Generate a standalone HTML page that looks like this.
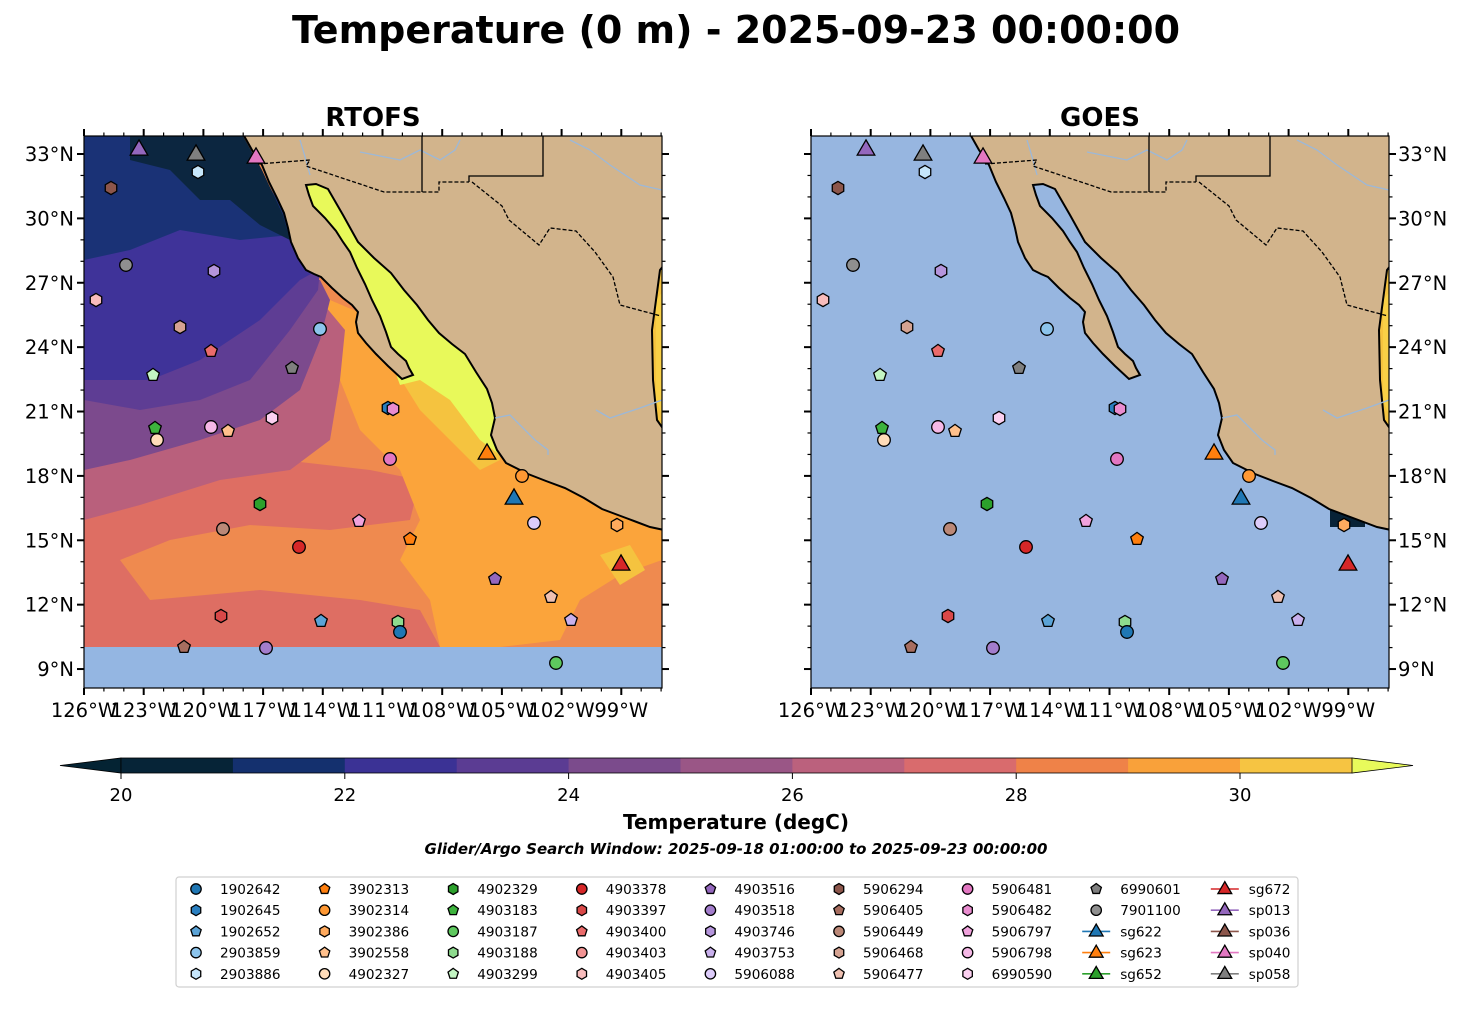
<!DOCTYPE html>
<html><head><meta charset="utf-8">
<style>
html,body{margin:0;padding:0;background:#fff;}
svg text{font-family:"DejaVu Sans","Liberation Sans",sans-serif;}
</style></head>
<body>
<svg id="s" xmlns="http://www.w3.org/2000/svg" width="1473" height="1014" viewBox="0 0 1473 1014">
<defs>
<clipPath id="c1"><rect x="84" y="136" width="578" height="552"/></clipPath>
<clipPath id="c2"><rect x="811" y="136" width="578" height="552"/></clipPath>
</defs>
<text x="736" y="43" text-anchor="middle" font-size="38" font-weight="bold">Temperature (0 m) - 2025-09-23 00:00:00</text>
<text x="373" y="126" text-anchor="middle" font-size="26" font-weight="bold">RTOFS</text>
<text x="1100" y="126" text-anchor="middle" font-size="26" font-weight="bold">GOES</text>
<g id="maps"></g>
<g id="cb"></g>
<g id="leg"></g>
</svg>
<script>
const NS="http://www.w3.org/2000/svg";
const S=document.getElementById('s');
function el(tag,attrs,parent,txt){const e=document.createElementNS(NS,tag);for(const k in attrs)e.setAttribute(k,attrs[k]);if(txt!==undefined)e.textContent=txt;(parent||S).appendChild(e);return e;}
function pts(a,dx){return a.map(p=>(p[0]+dx)+','+p[1]).join(' ');}
const C={
'1902642':['o','#1f77b4'],'1902645':['h','#2a7fc0'],'1902652':['p','#5ba3d6'],'2903859':['o','#8cc4ec'],'2903886':['h','#c6e6fb'],
'3902313':['p','#ff7f0e'],'3902314':['o','#ff9833'],'3902386':['h','#ffaa5e'],'3902558':['p','#ffc08c'],'4902327':['o','#ffdcb9'],
'4902329':['h','#2ca02c'],'4903183':['p','#3db33d'],'4903187':['o','#5ec85e'],'4903188':['h','#8edb8e'],'4903299':['p','#c3f5c3'],
'4903378':['o','#d62728'],'4903397':['h','#d94848'],'4903400':['p','#ea6b6b'],'4903403':['o','#f29393'],'4903405':['h','#f8bcbc'],
'4903516':['p','#9467bd'],'4903518':['o','#a37dcc'],'4903746':['h','#b595dc'],'4903753':['p','#c9b0ec'],'5906088':['o','#ddccfa'],
'5906294':['h','#8c564b'],'5906405':['p','#a76d5f'],'5906449':['o','#bb8877'],'5906468':['h','#d5a392'],'5906477':['p','#eec0b1'],
'5906481':['o','#e377c2'],'5906482':['h','#e98ccf'],'5906797':['p','#f0a2dc'],'5906798':['o','#f5b8e6'],'6990590':['h','#fbd0f0'],
'6990601':['p','#7f7f7f'],'7901100':['o','#8f8f8f'],
'sg622':['t','#1f77b4'],'sg623':['t','#ff7f0e'],'sg652':['t','#2ca02c'],'sg672':['t','#d62728'],
'sp013':['t','#9467bd'],'sp036':['t','#8c564b'],'sp040':['t','#e377c2'],'sp058':['t','#7f7f7f']};
function marker(g,type,col,x,y,r){
  const st={fill:col,stroke:'#000','stroke-width':1.3};
  if(type==='o'){el('circle',Object.assign({cx:x,cy:y,r:r},st),g);return;}
  let n=type==='h'?6:type==='p'?5:3; let rr=type==='t'?r*1.45:r*1.05;
  let a=[];for(let i=0;i<n;i++){const t=-Math.PI/2+i*2*Math.PI/n;a.push([x+rr*Math.cos(t),y+rr*Math.sin(t)+(type==='t'?rr*0.2:0)]);}
  el('polygon',Object.assign({points:a.map(p=>p.join(',')).join(' ')},st),g);
}
const M=[['sp013',139,148],['sp058',196,153],['sp040',256,156],['2903886',198,172],['5906294',111,188],['7901100',126,265],['4903746',214,271],
['4903405',96,300],['5906468',180,327],['2903859',320,329],['4903400',211,351],['6990601',292,368],['4903299',153,375],['1902645',388,408],['5906482',393,409],
['6990590',272,418],['4903183',155,428],['5906798',211,427],['3902558',228,431],['4902327',157,440],['sg623',487,452],['5906481',390,459],['3902314',522,476],
['sg622',514,497],['4902329',260,504],['5906449',223,529],['5906797',359,521],['5906088',534,523],['3902386',617,525],['4903378',299,547],['3902313',410,539],
['sg672',621,563],['4903516',495,579],['5906477',551,597],['4903397',221,616],['1902652',321,621],['4903188',398,622],['1902642',400,632],['4903753',571,620],
['5906405',184,647],['4903518',266,648],['4903187',556,663]];
const land=[[243,134],[252,150],[262,165],[269,182],[277,198],[284,213],[288,228],[291,242],[298,258],[306,270],[314,274],[321,277],[332,288],[343,298],[352,305],[358,312],[356,322],[358,333],[366,343],[376,354],[388,366],[402,379],[413,375],[409,368],[406,361],[398,354],[391,347],[386,332],[380,316],[372,300],[365,284],[357,268],[350,252],[343,242],[336,231],[325,218],[313,206],[309,195],[306,185],[316,184],[328,189],[343,215],[358,242],[374,258],[391,273],[404,290],[417,305],[428,320],[439,333],[452,344],[465,354],[476,372],[487,389],[492,403],[495,418],[491,435],[497,450],[506,463],[528,474],[546,481],[565,488],[584,498],[602,509],[626,518],[650,527],[664,530],[664,430],[657,420],[653,380],[652,330],[656,300],[660,270],[664,265],[664,134]];
const gulf=[[300,180],[330,185],[345,215],[360,242],[392,273],[418,305],[440,333],[466,354],[488,389],[496,418],[492,436],[500,455],[480,440],[450,400],[420,380],[400,385],[380,330],[340,260],[310,215]];
const field=[
 ['#ef8a4f',[[84,136],[662,136],[662,647],[84,647]]],
 ['#de6e63',[[84,470],[200,468],[300,462],[370,470],[420,480],[410,520],[330,530],[250,525],[170,540],[120,560],[150,600],[260,590],[360,600],[420,610],[440,647],[84,647]]],
 ['#fba43b',[[330,300],[400,330],[440,360],[480,400],[520,450],[560,480],[662,520],[662,560],[620,575],[580,600],[560,640],[500,647],[440,647],[430,600],[400,560],[420,520],[400,470],[360,430],[340,380],[320,340]]],
 ['#f5c33f',[[395,370],[430,345],[470,370],[495,420],[500,460],[480,470],[450,440],[420,410]]],
 ['#f5c33f',[[600,555],[630,545],[645,570],[620,585]]],
 ['#b9607c',[[84,410],[84,520],[140,505],[220,480],[290,470],[330,440],[340,380],[345,330],[320,300],[300,300]]],
 ['#7c4a8d',[[84,380],[84,470],[130,460],[200,440],[260,420],[300,390],[320,340],[330,300],[320,280],[300,280],[240,320],[160,340]]],
 ['#5e3d94',[[84,300],[84,400],[140,410],[200,400],[250,380],[290,330],[318,290],[320,270],[300,250],[250,260],[160,290]]],
 ['#3f3399',[[84,200],[84,380],[150,380],[200,360],[260,320],[300,280],[318,270],[300,250],[290,230],[250,220],[150,230]]],
 ['#1a3276',[[84,136],[84,260],[130,250],[180,230],[240,240],[290,235],[283,210],[260,170],[240,136]]],
 ['#0c2640',[[130,136],[243,136],[262,170],[283,215],[290,240],[260,225],[230,200],[200,200],[170,170],[130,160]]],
 ['#94b6e2',[[84,647],[662,647],[662,688],[84,688]]]
];
function map(dx,rt){
  const g=el('g',{'clip-path':rt?'url(#c1)':'url(#c2)'},document.getElementById('maps'));
  if(rt){field.forEach(f=>el('polygon',{points:pts(f[1],dx),fill:f[0]},g));
    el('polygon',{points:pts(gulf,dx),fill:'#e8f95a'},g);}
  else{el('rect',{x:811,y:136,width:578,height:552,fill:'#97b6e0'},g);
    el('rect',{x:1330,y:508,width:35,height:19,fill:'#082236'},g);}
  el('polygon',{points:pts([[648,270],[664,262],[664,432],[650,420],[646,380],[648,330]],dx),fill:'#f5c33f'},g);
  el('polygon',{points:pts([[656,300],[664,290],[664,420],[656,400]],dx),fill:'#f9d046'},g);
  el('polygon',{points:pts(land,dx),fill:'#d2b48c',stroke:'#000','stroke-width':2},g);
  el('polyline',{points:pts([[300,140],[306,160],[310,175]],dx),fill:'none',stroke:'#9cb8d8','stroke-width':1.3},g);
  el('polyline',{points:pts([[360,152],[380,156],[400,160],[420,150],[440,160],[455,150],[460,140]],dx),fill:'none',stroke:'#9cb8d8','stroke-width':1.3},g);
  el('polyline',{points:pts([[570,140],[590,150],[610,165],[640,185],[662,190]],dx),fill:'none',stroke:'#9cb8d8','stroke-width':1.3},g);
  el('polyline',{points:pts([[495,418],[510,415],[520,425],[535,440],[548,450],[548,455]],dx),fill:'none',stroke:'#9cb8d8','stroke-width':1.3},g);
  el('polyline',{points:pts([[596,410],[610,418],[640,408],[662,400]],dx),fill:'none',stroke:'#9cb8d8','stroke-width':1.3},g);
  const d={fill:'none',stroke:'#000','stroke-width':1.3,'stroke-dasharray':'4,2'};
  el('polyline',Object.assign({points:pts([[258,164],[310,160],[306,166],[384,192],[422,192],[439,192],[439,182],[469,182]],dx)},d),g);
  el('polyline',Object.assign({points:pts([[472,182],[502,206],[509,220],[539,245],[550,228],[576,231],[595,252],[613,277],[620,305],[661,316]],dx)},d),g);
  const s={fill:'none',stroke:'#000','stroke-width':1.3};
  el('polyline',Object.assign({points:pts([[422,136],[422,192]],dx)},s),g);
  el('polyline',Object.assign({points:pts([[469,182],[469,176],[543,176],[543,136]],dx)},s),g);
  M.forEach(m=>{const c=C[m[0]];marker(g,c[0],c[1],m[1]+dx,m[2],c[0]==='t'?7:6.3);});
  const X0=84+dx;
  el('rect',{x:X0,y:136,width:578,height:552,fill:'none',stroke:'#000','stroke-width':1.2});
  for(let L=126;L>=97;L--){const x=X0+(126-L)*19.9;const maj=(L%3===0);const len=maj?7:3.5;
    el('line',{x1:x,y1:688,x2:x,y2:688+len,stroke:'#000','stroke-width':maj?2:1.2});
    el('line',{x1:x,y1:136,x2:x,y2:136-len,stroke:'#000','stroke-width':maj?2:1.2});
    if(maj)el('text',{x:x,y:717,'text-anchor':'middle','font-size':19.5},S,L+'°W');}
  for(let B=34;B>=8;B--){const y=154+(33-B)*21.46;if(y<136||y>688)continue;const maj=(B%3===0);const len=maj?7:3.5;
    el('line',{x1:X0,y1:y,x2:X0-len,y2:y,stroke:'#000','stroke-width':maj?2:1.2});
    el('line',{x1:X0+578,y1:y,x2:X0+578+len,y2:y,stroke:'#000','stroke-width':maj?2:1.2});
    if(maj){if(rt)el('text',{x:X0-10,y:y+7,'text-anchor':'end','font-size':19.5},S,B+'°N');
      else el('text',{x:X0+587,y:y+7,'font-size':19.5},S,B+'°N');}}
}
map(0,true);map(727,false);
const cb=document.getElementById('cb');
const cols=['#062437','#14306e','#3b3295','#5b3c93','#7b4b8c','#9a5686','#bb617d','#d96b6d','#ef8248','#f9a13a','#f6c442'];
el('polygon',{points:'121,758 121,773 60,765.5',fill:'#042333',stroke:'#000','stroke-width':0.8},cb);
el('polygon',{points:'1352,758 1352,773 1413,765.5',fill:'#e8fa5b',stroke:'#000','stroke-width':0.8},cb);
cols.forEach((c,i)=>el('rect',{x:121+i*111.9,y:758,width:112.5,height:15,fill:c},cb));
el('rect',{x:121,y:758,width:1231,height:15,fill:'none',stroke:'#000','stroke-width':0.8},cb);
for(let v=20;v<=30;v+=2){const x=121+(v-20)*111.9;el('line',{x1:x,y1:773,x2:x,y2:779,stroke:'#000','stroke-width':1},cb);el('text',{x:x,y:801,'text-anchor':'middle','font-size':18},cb,String(v));}
el('text',{x:736,y:829,'text-anchor':'middle','font-size':20,'font-weight':'bold'},cb,'Temperature (degC)');
el('text',{x:736,y:854,'text-anchor':'middle','font-size':15,'font-weight':'bold','font-style':'italic'},cb,'Glider/Argo Search Window: 2025-09-18 01:00:00 to 2025-09-23 00:00:00');
const lg=document.getElementById('leg');
el('rect',{x:176,y:877,width:1122,height:110,rx:3,fill:'#fff',stroke:'#d0d0d0','stroke-width':1.2},lg);
const keys=Object.keys(C);
keys.forEach((k,i)=>{const col=Math.floor(i/5),row=i%5;const x=196+col*128.6,y=889+row*21.2;const c=C[k];
  if(c[0]==='t'){el('line',{x1:x-14,y1:y,x2:x+14,y2:y,stroke:c[1],'stroke-width':1.6},lg);marker(lg,'t',c[1],x,y-1,5.5);}
  else marker(lg,c[0],c[1],x,y,5.2);
  el('text',{x:x+24,y:y+5,'font-size':13.6},lg,k);});
</script>
</body></html>
